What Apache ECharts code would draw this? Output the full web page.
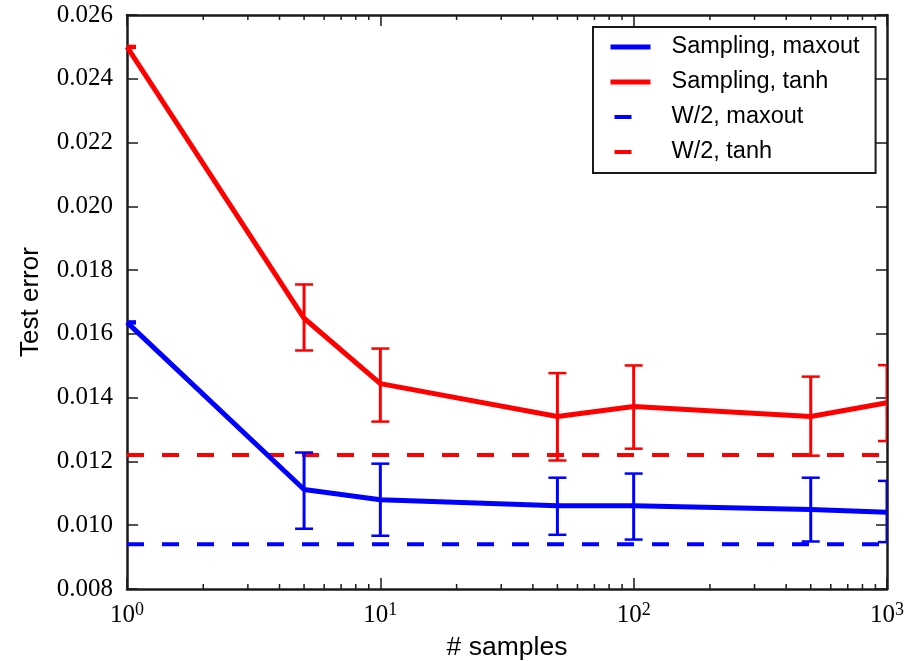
<!DOCTYPE html>
<html>
<head>
<meta charset="utf-8">
<title>Test error vs. number of samples</title>
<script src="https://cdn.jsdelivr.net/npm/echarts@6/dist/echarts.min.js"></script>
<style>
  html, body { margin: 0; padding: 0; background: #fff; }
  #chart { width: 914px; height: 661px; }
</style>
</head>
<body>
<div id="chart"></div>
<script>
// Number of samples (log scale)
const samples = [1, 5, 10, 50, 100, 500, 1000];

// Mean test error for the sampling-based predictions
const samplingMaxout = [0.01636, 0.01112, 0.01080, 0.01061, 0.01061, 0.01049, 0.01041];
const samplingTanh   = [0.02500, 0.01649, 0.01444, 0.01341, 0.01372, 0.01341, 0.01384];

// Error bar bounds
const maxoutLow  = [0.01633, 0.00989, 0.00967, 0.00970, 0.00955, 0.00949, 0.00947];
const maxoutHigh = [0.01639, 0.01228, 0.01193, 0.01149, 0.01162, 0.01149, 0.01139];
const tanhLow    = [0.02497, 0.01548, 0.01325, 0.01203, 0.01240, 0.01218, 0.01264];
const tanhHigh   = [0.02503, 0.01755, 0.01554, 0.01477, 0.01501, 0.01466, 0.01502];

// Weight-scaling (W/2) baselines
const w2Maxout = 0.0094;
const w2Tanh   = 0.0122;

// Axis settings
const xRange = [1, 1000];
const yTicks = [0.008, 0.010, 0.012, 0.014, 0.016, 0.018, 0.020, 0.022, 0.024, 0.026];
const minorTicks = [2, 3, 4, 5, 6, 7, 8, 9, 20, 30, 40, 50, 60, 70, 80, 90, 200, 300, 400, 500, 600, 700, 800, 900];

const BLUE = '#0000ff';
const RED = '#ff0000';
const INK = '#1a1a1a';
const SERIF = '"Liberation Serif", "DejaVu Serif", serif';
const SANS = '"Liberation Sans", Arial, sans-serif';

const pairs = (xs, ys) => xs.map((x, i) => [x, ys[i]]);
const bars = (xs, lo, hi) => xs.map((x, i) => [x, lo[i], hi[i]]);

function errorBarRender(color) {
  return function (params, api) {
    const x = api.value(0);
    const pLo = api.coord([x, api.value(1)]);
    const pHi = api.coord([x, api.value(2)]);
    const cap = 9;
    const capStyle = { stroke: color, lineWidth: 2.5 };
    return {
      type: 'group',
      children: [
        { type: 'line', shape: { x1: pLo[0], y1: pLo[1], x2: pHi[0], y2: pHi[1] }, style: { stroke: color, lineWidth: 3 } },
        { type: 'line', shape: { x1: pLo[0] - cap, y1: pLo[1], x2: pLo[0] + cap, y2: pLo[1] }, style: capStyle },
        { type: 'line', shape: { x1: pHi[0] - cap, y1: pHi[1], x2: pHi[0] + cap, y2: pHi[1] }, style: capStyle }
      ]
    };
  };
}

// Minor ticks of the log axis, drawn inside the frame on both bottom and top edges
function minorTickRender(params, api) {
  const x = api.coord([api.value(0), yTicks[0]])[0];
  const top = params.coordSys.y;
  const bottom = params.coordSys.y + params.coordSys.height;
  const len = 5;
  const style = { stroke: INK, lineWidth: 1.5 };
  return {
    type: 'group',
    children: [
      { type: 'line', shape: { x1: x, y1: bottom, x2: x, y2: bottom - len }, style },
      { type: 'line', shape: { x1: x, y1: top, x2: x, y2: top + len }, style }
    ]
  };
}

const xAxisBase = {
  type: 'log',
  logBase: 10,
  min: xRange[0],
  max: xRange[1],
  interval: 1,
  axisLine: { show: true, onZero: false, lineStyle: { color: INK, width: 2.5 } },
  axisTick: { show: true, inside: true, length: 11, lineStyle: { color: INK, width: 1.5 } },
  splitLine: { show: false },
  minorTick: { show: false }
};

const yAxisBase = {
  type: 'value',
  min: yTicks[0],
  max: yTicks[yTicks.length - 1],
  interval: 0.002,
  axisLine: { show: true, onZero: false, lineStyle: { color: INK, width: 2.5 } },
  axisTick: { show: true, inside: true, length: 11, lineStyle: { color: INK, width: 1.5 } },
  splitLine: { show: false }
};

const chart = echarts.init(document.getElementById('chart'), null, { renderer: 'canvas' });

chart.setOption({
  animation: false,
  backgroundColor: '#ffffff',
  grid: { left: 127, right: 27, top: 15, bottom: 72, containLabel: false, outerBoundsMode: 'none' },
  legend: {
    orient: 'vertical',
    left: 593,
    top: 27,
    padding: [8, 16, 9, 15],
    itemGap: 11,
    itemWidth: 40,
    itemHeight: 21,
    backgroundColor: '#ffffff',
    borderColor: INK,
    borderWidth: 2,
    itemStyle: { opacity: 0 },
    textStyle: { fontFamily: SANS, fontSize: 23.5, color: '#000', padding: [0, 0, 0, 16] },
    data: [
      { name: 'Sampling, maxout', lineStyle: { color: BLUE, width: 5, type: 'solid' } },
      { name: 'Sampling, tanh', lineStyle: { color: RED, width: 5, type: 'solid' } },
      { name: 'W/2, maxout', lineStyle: { color: BLUE, width: 4, type: [17, 100], dashOffset: -4 } },
      { name: 'W/2, tanh', lineStyle: { color: RED, width: 4, type: [17, 100], dashOffset: -4 } }
    ]
  },
  xAxis: [
    Object.assign({}, xAxisBase, {
      position: 'bottom',
      name: '# samples',
      nameLocation: 'middle',
      nameGap: 40,
      nameTextStyle: { fontFamily: SANS, fontSize: 26.5, color: '#000' },
      axisLabel: {
        show: true,
        margin: 12,
        formatter: function (v) {
          const e = Math.round(Math.log10(v));
          return '{b|10}{s|' + e + '}';
        },
        rich: {
          b: { fontFamily: SERIF, fontSize: 25, color: '#000', verticalAlign: 'bottom', lineHeight: 27 },
          s: { fontFamily: SERIF, fontSize: 18, color: '#000', verticalAlign: 'top', lineHeight: 27, padding: [0, 0, 10, 0] }
        }
      }
    }),
    Object.assign({}, xAxisBase, { position: 'top', axisLabel: { show: false } })
  ],
  yAxis: [
    Object.assign({}, yAxisBase, {
      position: 'left',
      name: 'Test error',
      nameLocation: 'middle',
      nameRotate: 90,
      nameGap: 83,
      nameTextStyle: { fontFamily: SANS, fontSize: 26, color: '#000' },
      axisLabel: {
        show: true,
        margin: 14,
        fontFamily: SERIF,
        fontSize: 25,
        color: '#000',
        formatter: v => v.toFixed(3)
      }
    }),
    Object.assign({}, yAxisBase, { position: 'right', axisLabel: { show: false } })
  ],
  series: [
    {
      name: 'W/2, maxout',
      type: 'line',
      symbol: 'none',
      data: [[xRange[0], w2Maxout], [xRange[1], w2Maxout]],
      lineStyle: { color: BLUE, width: 4, type: [17, 18] },
      itemStyle: { color: BLUE },
      z: 2
    },
    {
      name: 'W/2, tanh',
      type: 'line',
      symbol: 'none',
      data: [[xRange[0], w2Tanh], [xRange[1], w2Tanh]],
      lineStyle: { color: RED, width: 4, type: [17, 18] },
      itemStyle: { color: RED },
      z: 2
    },
    {
      name: 'Sampling, maxout',
      type: 'line',
      symbol: 'none',
      data: pairs(samples, samplingMaxout),
      lineStyle: { color: BLUE, width: 5 },
      itemStyle: { color: BLUE },
      z: 3
    },
    {
      name: 'Sampling, tanh',
      type: 'line',
      symbol: 'none',
      data: pairs(samples, samplingTanh),
      lineStyle: { color: RED, width: 5 },
      itemStyle: { color: RED },
      z: 3
    },
    {
      name: 'maxout error',
      type: 'custom',
      clip: true,
      renderItem: errorBarRender(BLUE),
      data: bars(samples, maxoutLow, maxoutHigh),
      z: 4,
      silent: true
    },
    {
      name: 'tanh error',
      type: 'custom',
      clip: true,
      renderItem: errorBarRender(RED),
      data: bars(samples, tanhLow, tanhHigh),
      z: 4,
      silent: true
    },
    {
      name: 'minor ticks',
      type: 'custom',
      renderItem: minorTickRender,
      data: minorTicks.map(v => [v]),
      z: 5,
      silent: true
    }
  ]
});
</script>
</body>
</html>
